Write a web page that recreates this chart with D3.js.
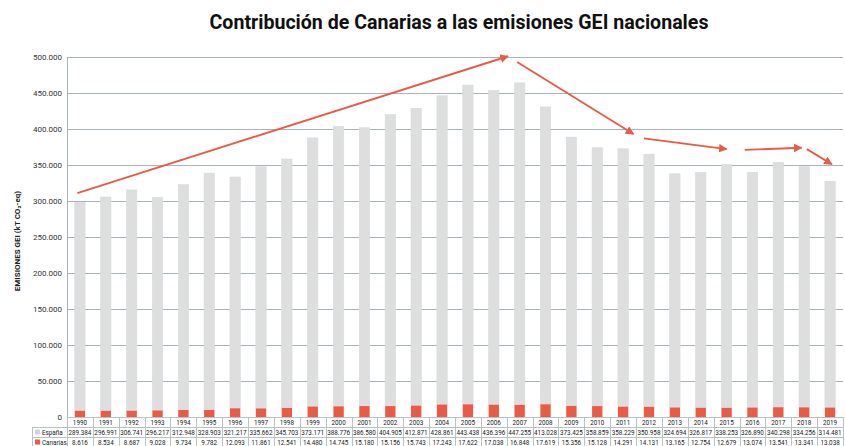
<!DOCTYPE html>
<html>
<head>
<meta charset="utf-8">
<script src="https://cdn.jsdelivr.net/npm/d3@7/dist/d3.min.js"></script>
<style>
  html, body { margin: 0; padding: 0; background: #fff; }
  svg { display: block; }
</style>
</head>
<body>
<svg id="chart" width="845" height="446"></svg>
<script>
const years = ["1990","1991","1992","1993","1994","1995","1996","1997","1998","1999","2000","2001","2002","2003","2004","2005","2006","2007","2008","2009","2010","2011","2012","2013","2014","2015","2016","2017","2018","2019"];
const espana = [289384,296991,306741,296217,312948,328903,321217,335662,345703,373171,388776,386580,404905,412871,428861,443438,436396,447255,413028,373425,358859,358229,350958,324694,326817,338253,326890,340298,334256,314481];
const canarias = [8616,8534,8687,9028,9734,9782,12093,11861,12541,14480,14745,15180,15156,15743,17243,17622,17038,16848,17619,15356,15128,14291,14131,13165,12754,12679,13074,13541,13341,13038];
const yTicks = [0,50000,100000,150000,200000,250000,300000,350000,400000,450000,500000];
// trend annotation arrows: [fractional year index, value]
const arrows = [
  [[-0.1, 311000], [16.55, 501000]],
  [[16.9, 493000], [21.4, 393000]],
  [[21.8, 387000], [25.0, 372000]],
  [[25.7, 371000], [27.9, 374000]],
  [[28.1, 372000], [29.07, 351000]]
];
const seriesNames = ["España", "Canarias"];

(function () {
const colors = { espana: "#dedede", canarias: "#ea5a45", grid: "#a7b3b8", text: "#333" };
const svg = d3.select("#chart");
const mLeft = 67, mRight = 843, mTop = 57, mBottom = 417;
const x = d3.scaleBand().domain(years).range([mLeft, mRight]).paddingInner(0.6).paddingOuter(0.3);
const xb = d3.scaleBand().domain(years).range([mLeft, mRight]);
const y = d3.scaleLinear().domain([0, 500000]).range([mBottom, mTop]);
const xf = i => mLeft + (i + 0.5) * xb.step();
const fmt = v => d3.format(",")(v).replace(/,/g, ".");
const font = "Roboto, 'Liberation Sans', Arial, sans-serif";

// Title
svg.append("text").attr("x", 459).attr("y", 29).attr("text-anchor", "middle")
  .style("font-family", font).style("font-weight", "bold").style("font-size", "19.6px").attr("fill", "#111")
  .text("Contribución de Canarias a las emisiones GEI nacionales");

// Gridlines
svg.append("g").selectAll("line").data(yTicks.filter(d => d > 0)).join("line")
  .attr("x1", mLeft).attr("x2", mRight).attr("y1", d => y(d)).attr("y2", d => y(d))
  .attr("stroke", colors.grid).attr("stroke-width", 1).attr("shape-rendering", "crispEdges");

// Y axis
const yAxis = d3.axisLeft(y).tickValues(yTicks).tickFormat(d => d === 0 ? "0" : fmt(d)).tickSize(0).tickPadding(5);
const ya = svg.append("g").attr("transform", `translate(${mLeft},0)`).call(yAxis);
ya.select(".domain").attr("stroke", colors.grid);
ya.selectAll("text").style("font-family", font).style("font-size", "8px").attr("fill", colors.text);

// Y title
svg.append("text").attr("transform", `translate(20,${(mTop + mBottom) / 2 + 4}) rotate(-90)`)
  .attr("text-anchor", "middle").style("font-family", font).style("font-weight", "bold").style("font-size", "8px").attr("fill", "#222")
  .text("EMISIONES GEI (kT CO₂-eq)");

// Bars
const g = svg.append("g");
years.forEach((yr, i) => {
  const tot = espana[i] + canarias[i];
  g.append("rect").attr("x", x(yr)).attr("width", x.bandwidth())
    .attr("y", y(tot)).attr("height", y(canarias[i]) - y(tot))
    .attr("fill", colors.espana).attr("stroke", "#d3dcde").attr("stroke-width", 0.6);
  g.append("rect").attr("x", x(yr)).attr("width", x.bandwidth())
    .attr("y", y(canarias[i])).attr("height", y(0) - y(canarias[i]))
    .attr("fill", colors.canarias);
});

// Arrows
const defs = svg.append("defs");
defs.append("marker").attr("id", "ah").attr("viewBox", "0 0 10 10").attr("refX", 9).attr("refY", 5)
  .attr("markerWidth", 4.5).attr("markerHeight", 4.5).attr("orient", "auto")
  .append("path").attr("d", "M0,0 L10,5 L0,10 z").attr("fill", colors.canarias);
svg.append("g").selectAll("line").data(arrows).join("line")
  .attr("x1", d => xf(d[0][0])).attr("y1", d => y(d[0][1]))
  .attr("x2", d => xf(d[1][0])).attr("y2", d => y(d[1][1]))
  .attr("stroke", colors.canarias).attr("stroke-width", 1.9).attr("marker-end", "url(#ah)");

// Data table
const tbl = svg.append("g");
const rowH = 10;
const rowsY = [mBottom, mBottom + rowH, mBottom + 2 * rowH, mBottom + 3 * rowH];
const tableLeft = 32;
const lc = "#b9c3c6";
tbl.append("line").attr("x1", mLeft).attr("x2", mRight).attr("y1", rowsY[0] + 0.5).attr("y2", rowsY[0] + 0.5).attr("stroke", lc);
[rowsY[1], rowsY[2]].forEach(yy => tbl.append("line").attr("x1", tableLeft).attr("x2", mRight).attr("y1", yy + 0.5).attr("y2", yy + 0.5).attr("stroke", lc));
const vx = years.map(yr => xb(yr)).concat([mRight]);
tbl.selectAll("line.v").data(vx).join("line").attr("class", "v")
  .attr("x1", d => Math.round(d) + 0.5).attr("x2", d => Math.round(d) + 0.5).attr("y1", rowsY[0]).attr("y2", rowsY[3])
  .attr("stroke", lc);
tbl.append("line").attr("x1", tableLeft + 0.5).attr("x2", tableLeft + 0.5).attr("y1", rowsY[1]).attr("y2", rowsY[3]).attr("stroke", lc);

const cellText = (txt, cx, row) => tbl.append("text").attr("x", cx).attr("y", rowsY[row] + 7.8)
  .attr("text-anchor", "middle").style("font-family", font).style("font-size", "6.3px").attr("fill", "#222").text(txt);
years.forEach((yr, i) => {
  const cx = xb(yr) + xb.bandwidth() / 2;
  cellText(yr, cx, 0);
  cellText(fmt(espana[i]), cx, 1);
  cellText(fmt(canarias[i]), cx, 2);
});
[["#cfd6e0", seriesNames[0]], [colors.canarias, seriesNames[1]]].forEach((d, k) => {
  tbl.append("rect").attr("x", tableLeft + 3).attr("y", rowsY[k + 1] + 2.5).attr("width", 5).attr("height", 5).attr("fill", d[0]);
  tbl.append("text").attr("x", tableLeft + 10).attr("y", rowsY[k + 1] + 7.8)
    .style("font-family", font).style("font-size", "6.3px").attr("fill", "#222").text(d[1]);
});
})();
</script>
</body>
</html>
